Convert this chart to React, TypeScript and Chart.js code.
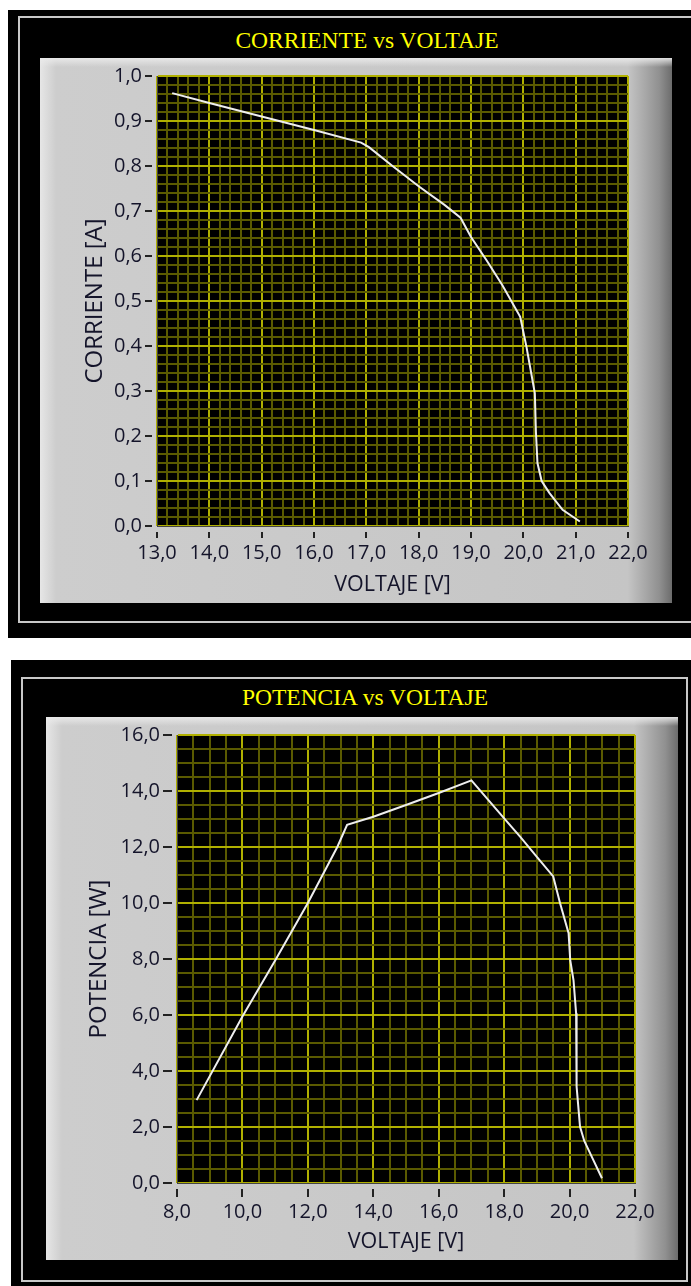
import React, { useEffect, useRef } from "react";
import { Chart, registerables } from "chart.js";

Chart.register(...registerables);

// ---------- DATA ----------
const currentVoltage = [13.29, 14.0, 15.0, 16.0, 16.9, 17.05, 17.5, 18.0, 18.5, 18.8, 19.0, 19.3, 19.6, 19.94, 20.06, 20.15, 20.22, 20.24, 20.27, 20.35, 20.5, 20.75, 21.08];
const currentValues = [0.962, 0.94, 0.91, 0.88, 0.852, 0.842, 0.8, 0.755, 0.713, 0.685, 0.642, 0.59, 0.535, 0.465, 0.398, 0.34, 0.295, 0.21, 0.14, 0.1, 0.073, 0.036, 0.01];

const powerVoltage = [8.6, 10.0, 11.0, 12.0, 12.9, 13.2, 14.0, 15.0, 16.0, 17.0, 17.5, 18.0, 18.5, 19.0, 19.5, 19.71, 19.97, 20.02, 20.12, 20.2, 20.21, 20.22, 20.32, 20.45, 20.63, 20.99];
const powerValues = [2.96, 5.95, 7.95, 10.0, 12.0, 12.79, 13.08, 13.5, 13.93, 14.38, 13.7, 13.02, 12.35, 11.65, 10.95, 9.99, 8.92, 7.96, 7.25, 6.06, 4.8, 3.44, 2.01, 1.5, 1.06, 0.17];

const currentTitle = "CORRIENTE vs VOLTAJE";
const powerTitle = "POTENCIA vs VOLTAJE";
const voltageLabel = "VOLTAJE [V]";
const currentLabel = "CORRIENTE [A]";
const powerLabel = "POTENCIA [W]";

// ---------- STYLE ----------
const TICK_FONT = { family: "'Open Sans', sans-serif", size: 20 };
const X_TITLE_FONT = { family: "'Open Sans', sans-serif", size: 21.5 };
const Y_TITLE_FONT = { family: "'Open Sans', sans-serif", size: 24 };
const TEXT_COLOR = "#14142a";
const GRID_MAJOR = "#b0b000";
const GRID_MINOR = "#5a5a00";

function isMult(v: number, m: number) {
  const q = v / m;
  return Math.abs(q - Math.round(q)) < 1e-6;
}
function fmt(v: number) {
  return v.toFixed(1).replace(".", ",");
}

const plotBg = {
  id: "plotBg",
  beforeDraw(chart: any) {
    const { ctx, chartArea: a } = chart;
    ctx.save();
    ctx.fillStyle = "#000";
    ctx.fillRect(a.left, a.top, a.right - a.left, a.bottom - a.top);
    ctx.restore();
  },
};

type PanelProps = {
  xs: number[];
  ys: number[];
  xMin: number; xMax: number; xStep: number; xMajor: number;
  yMin: number; yMax: number; yStep: number; yMajor: number;
  xTitle: string; yTitle: string;
  width: number; height: number;
  yAxisW: number; xAxisH: number;
  padTop: number; padRight: number;
  tickLen: number; tickGap: number;
  yTitlePad: number; xTitlePad: number;
};

function PlotPanel(p: PanelProps) {
  const ref = useRef<HTMLCanvasElement>(null);
  useEffect(() => {
    if (!ref.current) return;
    const tickStyle = (major: number) => ({
      color: (ctx: any) => (isMult(ctx.tick.value, major) ? GRID_MAJOR : GRID_MINOR),
      lineWidth: 2,
      tickColor: (ctx: any) => (isMult(ctx.tick.value, major) ? "#222222" : "rgba(0,0,0,0)"),
      tickWidth: 2,
      tickLength: p.tickLen,
    });
    const chart = new Chart(ref.current, {
      type: "line",
      data: {
        datasets: [
          {
            data: p.xs.map((x, i) => ({ x, y: p.ys[i] })),
            borderColor: "#eeeeee",
            borderWidth: 2,
            pointRadius: 0,
            tension: 0,
            fill: false,
          },
        ],
      },
      options: {
        animation: false,
        responsive: false,
        maintainAspectRatio: false,
        layout: { padding: { left: 0, top: p.padTop, right: p.padRight, bottom: 0 } },
        plugins: { legend: { display: false }, tooltip: { enabled: false }, title: { display: false } },
        scales: {
          x: {
            type: "linear",
            min: p.xMin,
            max: p.xMax,
            ticks: {
              stepSize: p.xStep,
              autoSkip: false,
              maxRotation: 0,
              minRotation: 0,
              padding: 3,
              color: TEXT_COLOR,
              font: TICK_FONT,
              callback: (v: any) => (isMult(Number(v), p.xMajor) ? fmt(Number(v)) : ""),
            },
            grid: {
              ...tickStyle(p.xMajor),
              tickBorderDash: [0, p.tickGap, p.tickLen - p.tickGap, 100],
            },
            border: { display: true, color: "#444444", width: 1 },
            title: {
              display: true,
              text: p.xTitle,
              color: TEXT_COLOR,
              font: X_TITLE_FONT,
              padding: { top: 0, bottom: p.xTitlePad },
            },
            afterFit: (s: any) => {
              s.height = p.xAxisH;
            },
          },
          y: {
            type: "linear",
            min: p.yMin,
            max: p.yMax,
            ticks: {
              stepSize: p.yStep,
              autoSkip: false,
              padding: 3,
              color: TEXT_COLOR,
              font: TICK_FONT,
              callback: (v: any) => (isMult(Number(v), p.yMajor) ? fmt(Number(v)) : ""),
            },
            grid: {
              ...tickStyle(p.yMajor),
              tickBorderDash: [p.tickLen - p.tickGap, 100],
            },
            border: { display: true, color: "#444444", width: 1 },
            title: {
              display: true,
              text: p.yTitle,
              color: TEXT_COLOR,
              font: Y_TITLE_FONT,
              padding: { top: p.yTitlePad, bottom: 0 },
            },
            afterFit: (s: any) => {
              s.width = p.yAxisW;
            },
          },
        },
      } as any,
      plugins: [plotBg],
    });
    return () => chart.destroy();
  }, []);
  return (
    <canvas
      ref={ref}
      width={p.width}
      height={p.height}
      style={{ position: "absolute", left: 0, top: 0, width: p.width, height: p.height }}
    />
  );
}

const panelBg =
  "linear-gradient(to bottom, rgba(235,235,235,0.9) 0px, rgba(235,235,235,0) 9px), " +
  "linear-gradient(to right, #e6e6e6 0px, #cdcdcd 16px, #c9c9c9 50%, #c5c5c5 93%, #909090 98%, #6c6c6c 100%)";

const titleStyle: React.CSSProperties = {
  position: "absolute",
  width: 400,
  textAlign: "center",
  fontFamily: "'Liberation Serif', 'Times New Roman', serif",
  fontSize: 23.5,
  lineHeight: "23.5px",
  color: "#ffff00",
  whiteSpace: "nowrap",
};

export default function App() {
  return (
    <div
      style={{
        position: "absolute",
        left: 0,
        top: 0,
        width: 691,
        height: 1286,
        overflow: "hidden",
        background: "#ffffff",
      }}
    >
      {/* Top frame */}
      <div style={{ position: "absolute", left: 8, top: 10, width: 700, height: 628, background: "#000" }} />
      <div
        style={{
          position: "absolute",
          left: 18,
          top: 16,
          width: 700,
          height: 607,
          border: "2px solid #c9c9c9",
          boxSizing: "border-box",
        }}
      />
      <div style={{ ...titleStyle, left: 167, top: 29 }}>{currentTitle}</div>
      <div style={{ position: "absolute", left: 40, top: 58, width: 632, height: 545, background: panelBg }}>
        <PlotPanel
          xs={currentVoltage}
          ys={currentValues}
          xMin={13}
          xMax={22}
          xStep={0.2}
          xMajor={1}
          yMin={0}
          yMax={1}
          yStep={0.02}
          yMajor={0.1}
          xTitle={voltageLabel}
          yTitle={currentLabel}
          width={632}
          height={545}
          yAxisW={117}
          xAxisH={77}
          padTop={18}
          padRight={44}
          tickLen={12}
          tickGap={5}
          yTitlePad={41}
          xTitlePad={5}
        />
      </div>

      {/* Bottom frame */}
      <div style={{ position: "absolute", left: 11, top: 660, width: 700, height: 640, background: "#000" }} />
      <div
        style={{
          position: "absolute",
          left: 21,
          top: 677,
          width: 667,
          height: 605,
          border: "2px solid #c9c9c9",
          boxSizing: "border-box",
        }}
      />
      <div style={{ ...titleStyle, left: 165, top: 686 }}>{powerTitle}</div>
      <div style={{ position: "absolute", left: 46, top: 717, width: 632, height: 543, background: panelBg }}>
        <PlotPanel
          xs={powerVoltage}
          ys={powerValues}
          xMin={8}
          xMax={22}
          xStep={0.5}
          xMajor={2}
          yMin={0}
          yMax={16}
          yStep={0.5}
          yMajor={2}
          xTitle={voltageLabel}
          yTitle={powerLabel}
          width={632}
          height={543}
          yAxisW={131}
          xAxisH={77}
          padTop={18}
          padRight={43}
          tickLen={14}
          tickGap={5}
          yTitlePad={39}
          xTitlePad={5}
        />
      </div>
    </div>
  );
}
